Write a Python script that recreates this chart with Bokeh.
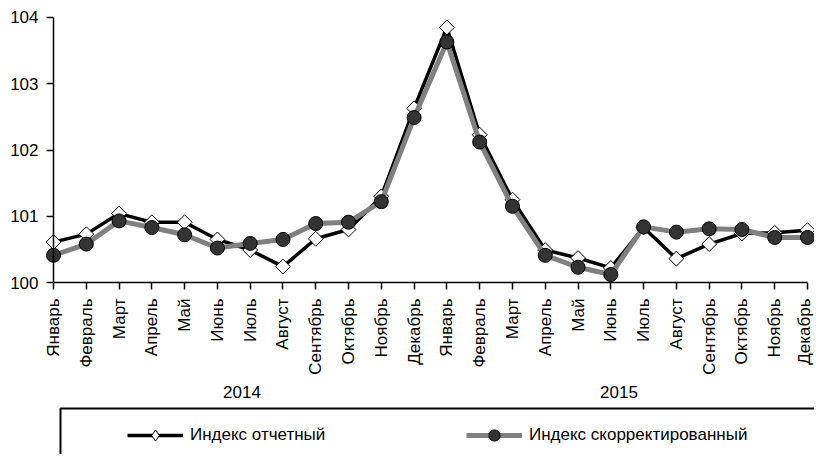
import math
from bokeh.plotting import figure
from bokeh.models import (Range1d, FixedTicker, LinearAxis, Legend, LegendItem,
                          BoxAnnotation, ColumnDataSource)
from bokeh.embed import file_html
from bokeh.resources import INLINE

years = ["2014", "2015"]
months = ["Январь", "Февраль", "Март", "Апрель", "Май", "Июнь", "Июль",
          "Август", "Сентябрь", "Октябрь", "Ноябрь", "Декабрь"]

reported_2014 = [100.61, 100.73, 101.04, 100.91, 100.91, 100.65, 100.49, 100.24,
                 100.66, 100.80, 101.30, 102.63]
reported_2015 = [103.85, 102.23, 101.25, 100.49, 100.37, 100.22, 100.83, 100.36,
                 100.58, 100.74, 100.75, 100.79]
adjusted_2014 = [100.41, 100.58, 100.93, 100.83, 100.72, 100.52, 100.59, 100.65,
                 100.89, 100.91, 101.22, 102.49]
adjusted_2015 = [103.63, 102.12, 101.15, 100.41, 100.23, 100.12, 100.84, 100.76,
                 100.81, 100.80, 100.68, 100.68]

y_ticks = [100, 101, 102, 103, 104]
series_names = ["Индекс отчетный", "Индекс скорректированный"]

labels = months * len(years)
x = list(range(len(labels)))
reported = reported_2014 + reported_2015
adjusted = adjusted_2014 + adjusted_2015
src = ColumnDataSource(dict(x=x, rep=reported, adj=adjusted))

n = len(months)
last = len(labels) - 1
bounds_groups = [0, n - 0.5, last]
year_centers = [(bounds_groups[i] + bounds_groups[i + 1]) / 2 for i in range(len(years))]

FONT = "Liberation Sans"

p = figure(width=814, height=454, output_backend="svg", toolbar_location=None,
           x_range=Range1d(-1.6167, 23.2134), y_range=Range1d(97.4038, 104.2566),
           min_border_left=0, min_border_right=0, min_border_top=0,
           min_border_bottom=0, x_axis_type=None, y_axis_type=None)
p.outline_line_color = None
p.background_fill_color = "white"
p.border_fill_color = "white"

yax = LinearAxis(fixed_location=0, bounds=(y_ticks[0], y_ticks[-1]),
                 ticker=FixedTicker(ticks=y_ticks, minor_ticks=[]),
                 major_label_overrides={float(t): str(t) for t in y_ticks})
yax.axis_line_color = "black"
yax.axis_line_width = 1.5
yax.major_tick_line_color = "black"
yax.major_tick_line_width = 1.5
yax.major_tick_in = 0
yax.major_tick_out = 7
yax.minor_tick_line_color = None
yax.major_label_standoff = 8
yax.major_label_text_font = FONT
yax.major_label_text_font_size = "17px"
yax.major_label_text_color = "black"
p.add_layout(yax, "left")

xax = LinearAxis(fixed_location=y_ticks[0], bounds=(0, last),
                 ticker=FixedTicker(ticks=x, minor_ticks=[]),
                 major_label_overrides={float(i): m for i, m in enumerate(labels)},
                 major_label_orientation=math.pi / 2)
xax.axis_line_color = "black"
xax.axis_line_width = 1.5
xax.major_tick_line_color = "black"
xax.major_tick_line_width = 1.5
xax.major_tick_in = 0
xax.major_tick_out = 7
xax.minor_tick_line_color = None
xax.major_label_standoff = 9
xax.major_label_text_font = FONT
xax.major_label_text_font_size = "17px"
xax.major_label_text_color = "black"
p.add_layout(xax, "below")

yrax = LinearAxis(fixed_location=y_ticks[0],
                  ticker=FixedTicker(ticks=year_centers, minor_ticks=[]),
                  major_label_overrides={float(c): yv for c, yv in zip(year_centers, years)})
yrax.axis_line_color = None
yrax.major_tick_line_color = None
yrax.minor_tick_line_color = None
yrax.major_tick_in = 0
yrax.major_tick_out = 0
yrax.major_label_standoff = 103
yrax.major_label_text_font = FONT
yrax.major_label_text_font_size = "17px"
yrax.major_label_text_color = "black"
p.add_layout(yrax, "below")

l1 = p.line("x", "rep", source=src, line_color="black", line_width=3.5)
p.scatter("x", "rep", source=src, marker="square", angle=math.pi / 4, size=10.5,
          fill_color="white", line_color="black", line_width=1)
l2 = p.line("x", "adj", source=src, line_color="#808080", line_width=5)
p.scatter("x", "adj", source=src, marker="circle", size=14,
          fill_color="#333333", line_color="black", line_width=1)

# legend-only glyph samples (hidden in plot)
lg1 = p.scatter("x", "rep", source=src, marker="diamond", fill_color="white",
                line_color="black", line_width=1, visible=False)
lg2 = p.scatter("x", "adj", source=src, marker="circle", fill_color="#333333",
                line_color="black", line_width=1, visible=False)

box = BoxAnnotation(left=0.2135, right=30, top=98.098, bottom=96.0,
                    fill_alpha=0, line_color="black", line_alpha=1.0, line_width=2)
p.add_layout(box)

legend = Legend(items=[LegendItem(label=series_names[0], renderers=[l1, lg1]),
                       LegendItem(label=series_names[1], renderers=[l2, lg2])],
                orientation="horizontal", location=(127, 5),
                glyph_width=56, glyph_height=28, label_height=28, label_width=276,
                label_standoff=7, spacing=0, padding=0, margin=0,
                border_line_color=None, background_fill_alpha=0,
                label_text_font=FONT, label_text_font_size="17px",
                label_text_color="black")
p.add_layout(legend, "center")

open("out.html", "w").write(file_html(p, INLINE))
